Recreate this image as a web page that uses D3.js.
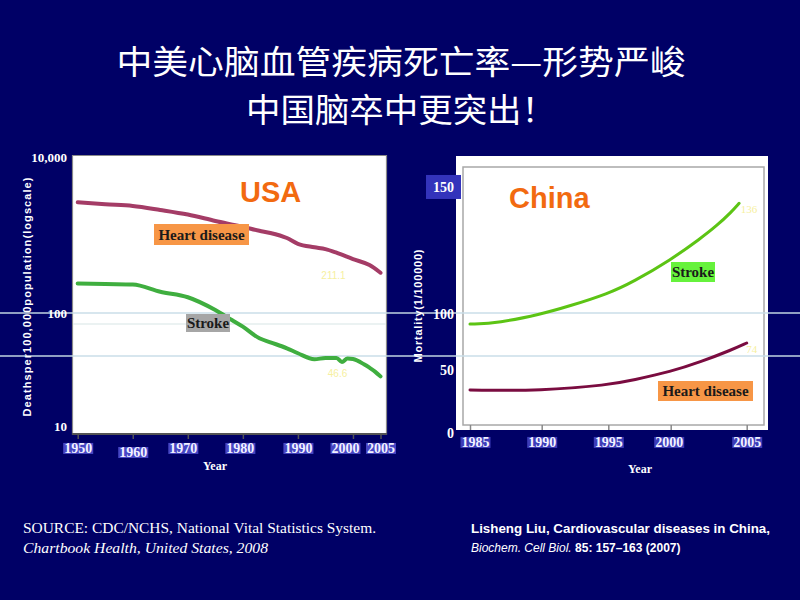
<!DOCTYPE html>
<html><head><meta charset="utf-8">
<script src="https://cdn.jsdelivr.net/npm/d3@7"></script>
<style>html,body{margin:0;padding:0;background:#000066;}svg{display:block}</style>
</head><body><svg id="c" width="800" height="600"></svg>
<script>
// ---------- data ----------
const titleLines = ["中美心脑血管疾病死亡率—形势严峻", "中国脑卒中更突出！"];

// USA (deaths per 100,000, log scale)
const usaHeartYears = [1950,1955,1960,1965,1970,1975,1980,1983,1985,1988,1990,1993,1995,1997,2000,2003,2005];
const usaHeartValues = [588.8,572,559,527,492.7,449,412.1,389,377,350,321.8,306,298,283,257.6,236,211.1];
const usaStrokeYears = [1950,1955,1960,1965,1970,1975,1978,1980,1983,1985,1988,1990,1993,1995,1997,1998,1999,2000,2002,2003,2004,2005];
const usaStrokeValues = [180.7,179,177.9,160,147.7,122.6,106,96.2,81.2,76.6,70.2,65.3,59.8,61,61,57.5,60.5,60,55.6,52.9,50,46.6];
const usaXTicks = [1950,1960,1970,1980,1990,2000,2005];
const usaYTickLabels = [10,100,10000];
const usaEndLabels = ["211.1","46.6"];

// China (mortality per 100,000)
const chinaStrokeYears = [1985,1987,1990,1992,1995,1997,2000,2002,2003,2004,2004.5];
const chinaStrokeValues = [91,92,100,103,108,112.7,121.3,129.9,134.6,140.2,143.6];
const chinaHeartYears = [1985,1990,1995,1997,2000,2002,2004,2005];
const chinaHeartValues = [33.6,33,37.7,41.8,48.6,57.4,67.9,74.1];
const chinaXTicks = [1985,1990,1995,2000,2005];
const chinaYTicks = [0,50,100,150];
const chinaEndLabels = ["136","74"];

const sourceUSA = ["SOURCE: CDC/NCHS, National Vital  Statistics  System.", "Chartbook Health, United States, 2008"];
const sourceChina = ["Lisheng Liu, Cardiovascular diseases in China,", "Biochem. Cell Biol.", " 85: 157–163 (2007)"];

// ---------- drawing ----------
const svg = d3.select("#c");
const SERIF = "'Liberation Serif','Times New Roman',serif";
const SANS = "'Liberation Sans',Arial,sans-serif";
svg.append("rect").attr("width",800).attr("height",600).attr("fill","#000066");

// title
const titleWidths = [569, 310];
svg.selectAll("text.title").data(titleLines).enter().append("text").attr("class","title")
  .attr("x",401).attr("y",(d,i)=>74+i*48).attr("text-anchor","middle")
  .attr("font-family","'Noto Sans CJK SC',sans-serif").attr("font-size",33).attr("fill","#ffffff")
  .attr("textLength",(d,i)=>titleWidths[i]).attr("lengthAdjust","spacingAndGlyphs").text(d=>d);

// ----- USA chart -----
const ux = d3.scaleLinear().domain([1950,2005]).range([77.7,380.5]);
const uy = d3.scaleLog().domain([10,1000]).range([482,166]);          // data scale
const uyLab = d3.scaleLog().domain([10,100,10000]).range([426,313,157]); // printed axis labels

svg.append("rect").attr("x",72).attr("y",155).attr("width",315).attr("height",280).attr("fill","#ffffff");
svg.append("path").attr("d","M72.5,435 V155.5 H386.5 V435").attr("fill","none").attr("stroke","#8a8a8a").attr("stroke-width",1.2);
svg.append("line").attr("x1",73).attr("x2",386).attr("y1",uy(100)).attr("y2",uy(100)).attr("stroke","#e4eeee").attr("stroke-width",1.5);

// ----- China chart -----
const cx = d3.scaleLinear().domain([1985,1990,1995,2000,2005]).range([470,541.7,608.3,670.7,746.7]);
const cy = d3.scaleLinear().domain([0,50,100,150]).range([431,370,314,187]);
svg.append("rect").attr("x",456).attr("y",156).attr("width",312).attr("height",274).attr("fill","#ffffff");
svg.append("rect").attr("x",463).attr("y",167).attr("width",301).attr("height",258).attr("fill","none").attr("stroke","#a8a8a8").attr("stroke-width",1.5);

// slide decoration lines
[313,356].forEach(y=>{
  svg.append("line").attr("x1",0).attr("x2",800).attr("y1",y).attr("y2",y)
    .attr("stroke","#c8dce8").attr("stroke-opacity",0.72).attr("stroke-width",2);
});

// USA axes
const uxAxis = svg.append("g").attr("transform","translate(0,434)")
  .call(d3.axisBottom(ux).tickValues(usaXTicks).tickSize(5).tickPadding(4).tickFormat(d3.format("d")));
uxAxis.select(".domain").attr("stroke","#555").attr("stroke-width",2).attr("d","M72,0H387");
uxAxis.selectAll(".tick line").attr("stroke","#555").attr("stroke-width",1.5);
uxAxis.selectAll(".tick text").attr("font-family",SERIF).attr("font-weight","bold").attr("font-size",14)
  .attr("fill","#f2f2ff").attr("dy",d=>d===1960?"1.0em":"0.71em")
  .attr("dx",d=>d===2000?-8:(d===1970?-5:(d===1980?-3:0)));

const uyAxis = svg.append("g").attr("transform","translate(72,0)")
  .call(d3.axisLeft(uyLab).tickValues(usaYTickLabels).tickSize(0).tickPadding(5).tickFormat(d3.format(",")));
uyAxis.select(".domain").remove();
uyAxis.selectAll(".tick text").attr("font-family",SERIF).attr("font-weight","bold").attr("font-size",13).attr("fill","#ffffff");

// China axes
const cxAxis = svg.append("g").attr("transform","translate(0,425)")
  .call(d3.axisBottom(cx).tickValues(chinaXTicks).tickSize(5).tickPadding(7).tickFormat(d3.format("d")));
cxAxis.select(".domain").remove();
cxAxis.selectAll(".tick line").attr("stroke","#888").attr("stroke-width",1.5);
cxAxis.selectAll(".tick text").attr("font-family",SERIF).attr("font-weight","bold").attr("font-size",14)
  .attr("fill","#f2f2ff").attr("dx",d=>d===1985?5:(d===2000?-2:0));

const cyAxis = svg.append("g").attr("transform","translate(457,0)")
  .call(d3.axisLeft(cy).tickValues(chinaYTicks).tickSize(0).tickPadding(3).tickFormat(d3.format("d")));
cyAxis.select(".domain").remove();
cyAxis.selectAll(".tick text").attr("font-family",SERIF).attr("font-weight","bold").attr("font-size",14).attr("fill","#ffffff")
  .attr("dy",d=>d===0?"0.45em":"0.32em");

// blue highlight boxes behind tick labels
function highlight(sel, fill, full){
  sel.each(function(){
    const bb = this.getBBox();
    d3.select(this.parentNode).insert("rect","text")
      .attr("x",bb.x-(full?7:1))
      .attr("y",full?bb.y-5:bb.y+2)
      .attr("width",bb.width+(full?14:2))
      .attr("height",full?bb.height+9:bb.height-4)
      .attr("fill",fill);
  });
}
highlight(uxAxis.selectAll(".tick text"),"#4646c4",false);
highlight(cxAxis.selectAll(".tick text"),"#3c3cb8",false);
highlight(cyAxis.selectAll(".tick text").filter(d=>d===150),"#3333bb",true);

// lines
const uLine = d3.line().x(d=>ux(d[0])).y(d=>uy(d[1])).curve(d3.curveMonotoneX);
const cLine = d3.line().x(d=>cx(d[0])).y(d=>cy(d[1])).curve(d3.curveBasis);
svg.append("path").attr("d",uLine(d3.zip(usaHeartYears,usaHeartValues)))
  .attr("fill","none").attr("stroke","#a43c66").attr("stroke-width",4).attr("stroke-linejoin","round").attr("stroke-linecap","round");
svg.append("path").attr("d",uLine(d3.zip(usaStrokeYears,usaStrokeValues)))
  .attr("fill","none").attr("stroke","#3fae3f").attr("stroke-width",4).attr("stroke-linejoin","round").attr("stroke-linecap","round");
svg.append("path").attr("d",cLine(d3.zip(chinaStrokeYears,chinaStrokeValues)))
  .attr("fill","none").attr("stroke","#5cc414").attr("stroke-width",3).attr("stroke-linecap","round");
svg.append("path").attr("d",cLine(d3.zip(chinaHeartYears,chinaHeartValues)))
  .attr("fill","none").attr("stroke","#7a0c40").attr("stroke-width",3).attr("stroke-linecap","round");

// end value labels (faint)
const endFill = "#f6f0a0";
svg.append("text").attr("x",ux(2005)-47).attr("y",uy(211.1)+6).attr("text-anchor","middle")
  .attr("font-family",SANS).attr("font-size",10).attr("fill",endFill).text(usaEndLabels[0]);
svg.append("text").attr("x",ux(2005)-43).attr("y",uy(46.6)+1).attr("text-anchor","middle")
  .attr("font-family",SANS).attr("font-size",10).attr("fill",endFill).text(usaEndLabels[1]);
svg.append("text").attr("x",cx(2004.5)+10).attr("y",cy(143.6)+10).attr("text-anchor","middle")
  .attr("font-family",SERIF).attr("font-size",11).attr("fill",endFill).text(chinaEndLabels[0]);
svg.append("text").attr("x",cx(2005)+5).attr("y",cy(74.1)+10).attr("text-anchor","middle")
  .attr("font-family",SERIF).attr("font-size",11).attr("fill",endFill).text(chinaEndLabels[1]);

// series labels with boxes
function boxLabel(x,y,w,h,fill,txt){
  svg.append("rect").attr("x",x).attr("y",y).attr("width",w).attr("height",h).attr("fill",fill);
  svg.append("text").attr("x",x+w/2).attr("y",y+h/2).attr("text-anchor","middle").attr("dominant-baseline","central")
    .attr("font-family",SERIF).attr("font-weight","bold").attr("font-size",15).attr("fill","#1a1a1a").text(txt);
}
boxLabel(154,224,95,21,"#f79646","Heart disease");
boxLabel(186,314,44,18,"#a6a6a6","Stroke");
boxLabel(671,262,44,20,"#66f23c","Stroke");
boxLabel(658,381,95,20,"#f79646","Heart disease");

// big region titles
svg.append("text").attr("x",240).attr("y",202).attr("font-family",SANS).attr("font-weight","bold")
  .attr("font-size",29).attr("fill","#f26a10").text("USA");
svg.append("text").attr("x",509).attr("y",208).attr("font-family",SANS).attr("font-weight","bold")
  .attr("font-size",29).attr("fill","#f26a10").text("China");

// axis titles
svg.append("text").attr("transform","translate(31,297) rotate(-90)").attr("text-anchor","middle")
  .attr("font-family",SANS).attr("font-weight","bold").attr("font-size",11).attr("fill","#ffffff")
  .attr("textLength",239).attr("lengthAdjust","spacing").text("Deathsper100,000population(logscale)");
svg.append("text").attr("transform","translate(422,306) rotate(-90)").attr("text-anchor","middle")
  .attr("font-family",SANS).attr("font-weight","bold").attr("font-size",11).attr("fill","#ffffff")
  .attr("textLength",113).attr("lengthAdjust","spacing").text("Mortality(1/100000)");
svg.append("text").attr("x",215).attr("y",470).attr("text-anchor","middle").attr("font-family",SERIF)
  .attr("font-weight","bold").attr("font-size",12).attr("fill","#ffffff").text("Year");
svg.append("text").attr("x",640).attr("y",473).attr("text-anchor","middle").attr("font-family",SERIF)
  .attr("font-weight","bold").attr("font-size",12).attr("fill","#ffffff").text("Year");

// sources
svg.append("text").attr("x",23).attr("y",533).attr("font-family",SERIF).attr("font-size",14)
  .attr("fill","#ffffff").attr("textLength",353).attr("lengthAdjust","spacingAndGlyphs").text(sourceUSA[0]);
svg.append("text").attr("x",23).attr("y",553).attr("font-family",SERIF).attr("font-style","italic").attr("font-size",14)
  .attr("fill","#ffffff").attr("textLength",245).attr("lengthAdjust","spacingAndGlyphs").text(sourceUSA[1]);
svg.append("text").attr("x",471).attr("y",533).attr("font-family",SANS).attr("font-weight","bold").attr("font-size",13)
  .attr("fill","#ffffff").attr("textLength",299).attr("lengthAdjust","spacingAndGlyphs").text(sourceChina[0]);
const s2 = svg.append("text").attr("x",471).attr("y",552).attr("font-family",SANS).attr("font-size",12).attr("fill","#ffffff");
s2.append("tspan").attr("font-style","italic").text(sourceChina[1]);
s2.append("tspan").attr("font-weight","bold").text(sourceChina[2]);
</script>
</body></html>
